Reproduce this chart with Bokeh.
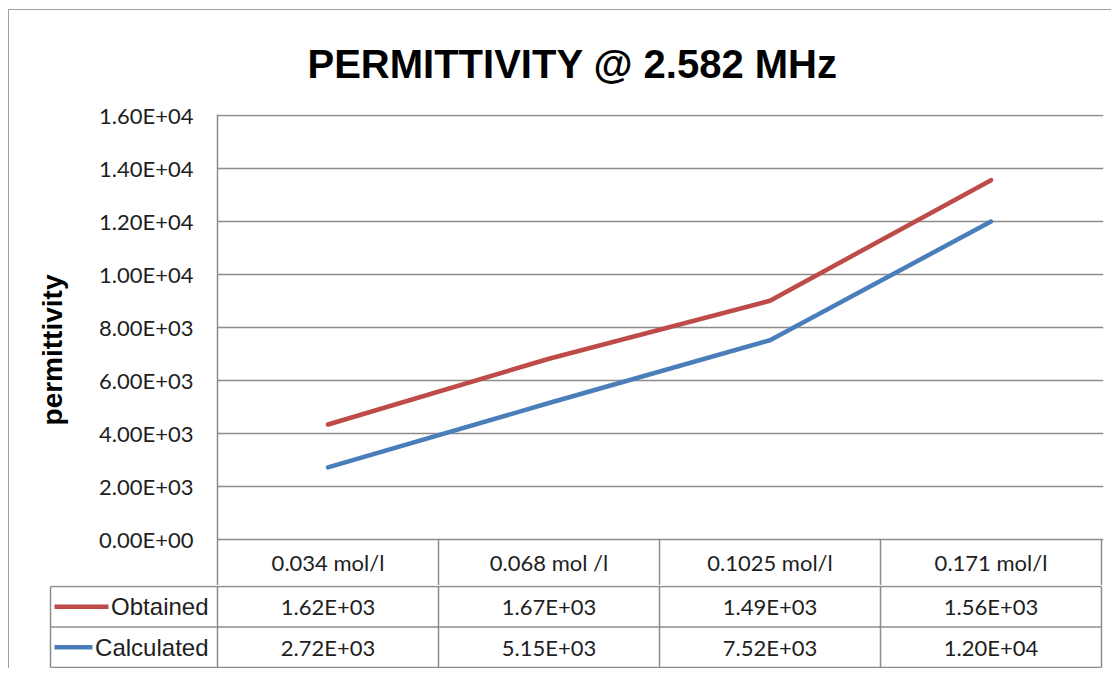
from bokeh.plotting import figure
from bokeh.models import Range1d, FixedTicker
from bokeh.layouts import column
from bokeh.embed import file_html
from bokeh.resources import INLINE
from bokeh.core.properties import value

# ---------------- data ----------------
title_text = "PERMITTIVITY @ 2.582 MHz"
y_label = "permittivity"
categories = ["0.034 mol/l", "0.068 mol /l", "0.1025 mol/l", "0.171 mol/l"]
series_names = ["Obtained", "Calculated"]
obtained = [1.62e3, 1.67e3, 1.49e3, 1.56e3]
calculated = [2.72e3, 5.15e3, 7.52e3, 1.20e4]
y_ticks = [0, 2000, 4000, 6000, 8000, 10000, 12000, 14000, 16000]

# stacked line chart: the Obtained line is drawn on top of Calculated
obtained_stacked = [o + c for o, c in zip(obtained, calculated)]

# ---------------- style / layout ----------------
RED = "#BE4B48"
BLUE = "#4A7EBB"
GRID = "#8c8c8c"
TXT = "#1e1e1e"
FONT = "Lato"
LFONT = "Liberation Sans"

W = 1102
H1 = 575
H2 = 83
PX_X = 221.0                 # pixels per category
PX_Y = 424.0 / 16000.0       # pixels per unit on value axis

n = len(categories)
xi = list(range(n))

# top figure: frame 217..1103 (x), 114..585 (y)
fw1 = 886
fh1 = 471
y_end = 16000 + 1 / PX_Y
y_start = y_end - fh1 / PX_Y
p1 = figure(width=W, height=H1, output_backend="svg", toolbar_location=None,
            x_axis_location=None,
            x_range=Range1d(-0.5, -0.5 + fw1 / PX_X),
            y_range=Range1d(y_start, y_end),
            min_border_left=208, min_border_right=8,
            min_border_top=104, min_border_bottom=0)
p1.frame_align = False
p1.outline_line_color = None
p1.xgrid.visible = False
p1.ygrid.grid_line_color = GRID
p1.ygrid.grid_line_width = 1.5

p1.title.text = title_text
p1.title.text_font = LFONT
p1.title.text_font_style = "bold"
p1.title.text_font_size = "40px"
p1.title.text_color = "#000000"
p1.title.align = "left"
p1.title.offset = 90
p1.title.vertical_align = "top"
p1.title.standoff = 54

ax = p1.yaxis[0]
ax.ticker = FixedTicker(ticks=y_ticks)
ax.major_label_overrides = {t: f"{t:.2E}" for t in y_ticks}
ax.axis_line_color = GRID
ax.axis_line_width = 1.5
ax.major_tick_in = 0
ax.major_tick_out = 0
ax.minor_tick_in = 0
ax.minor_tick_out = 0
ax.major_label_standoff = 24
ax.major_label_text_font = FONT
ax.major_label_text_font_size = "22px"
ax.major_label_text_color = TXT
ax.axis_label = y_label
ax.axis_label_text_font = LFONT
ax.axis_label_text_font_style = "bold"
ax.axis_label_text_font_size = "28px"
ax.axis_label_text_color = "#000000"
ax.axis_label_standoff = 28

p1.line(xi, calculated, line_color=BLUE, line_width=4.5,
        line_join="round", line_cap="round")
p1.line(xi, obtained_stacked, line_color=RED, line_width=4.5,
        line_join="round", line_cap="round")

# header row of the data table (category names)
header_y = -(562 - 539) / PX_Y
bounds = [i + 0.5 for i in xi]
p1.segment(x0=bounds, y0=[0] * n, x1=bounds, y1=[y_start] * n,
           line_color=GRID, line_width=1.5)
p1.text(x=xi, y=[header_y] * n, text=categories, text_align="center",
        text_baseline="middle", text_font=value(FONT),
        text_font_size="22px", text_color=TXT)

# bottom figure: series rows of the data table
left_px = 48
x0_2 = -0.5 - (217 - left_px) / PX_X
x1_2 = x0_2 + (W - 39 - 8) / PX_X
ROW_PX = 40.5
y_top2 = -0.5 - 1 / ROW_PX
y_bot2 = y_top2 + H2 / ROW_PX
p2 = figure(width=W, height=H2, output_backend="svg", toolbar_location=None,
            x_axis_location=None, y_axis_location=None,
            x_range=Range1d(x0_2, x1_2),
            y_range=Range1d(y_bot2, y_top2),
            min_border_left=39, min_border_right=8,
            min_border_top=0, min_border_bottom=0)
p2.frame_align = False
p2.outline_line_color = None
p2.grid.visible = False

ns = len(series_names)
rows = list(range(ns))
tbl_left = -0.5 - (217 - 50) / PX_X
h_y = [r - 0.5 for r in rows] + [ns - 0.5]
p2.segment(x0=[tbl_left] * len(h_y), y0=h_y, x1=[n - 0.5] * len(h_y), y1=h_y,
           line_color=GRID, line_width=1.5)
v_x = [tbl_left, -0.5] + bounds
p2.segment(x0=v_x, y0=[-0.5] * len(v_x), x1=v_x, y1=[ns - 0.5] * len(v_x),
           line_color=GRID, line_width=1.5)

vals = [obtained, calculated]
cx, cy, ct = [], [], []
for r, series in enumerate(vals):
    for i, v in enumerate(series):
        cx.append(i)
        cy.append(r)
        ct.append(f"{v:.2E}")
p2.text(x=cx, y=cy, text=ct, text_align="center", text_baseline="middle",
        text_font=value(FONT), text_font_size="22px", text_color=TXT)

name_x = -0.5 - 9 / PX_X
p2.text(x=[name_x] * ns, y=rows, text=series_names, text_align="right",
        text_baseline="middle", text_font=value(LFONT),
        text_font_size="24px", text_color=TXT)

sw_x0 = -0.5 - (217 - 54) / PX_X
sw_x1 = [-0.5 - (217 - 108) / PX_X, -0.5 - (217 - 92) / PX_X]
p2.segment(x0=[sw_x0] * ns, y0=rows, x1=sw_x1, y1=rows,
           line_color=[RED, BLUE], line_width=4.5)

layout = column(p1, p2, styles={"border-left": "1px solid #a0a0a0",
                                "border-top": "1px solid #a0a0a0",
                                "margin-left": "8px",
                                "margin-top": "9px"})

open("out.html", "w").write(file_html(layout, INLINE))
